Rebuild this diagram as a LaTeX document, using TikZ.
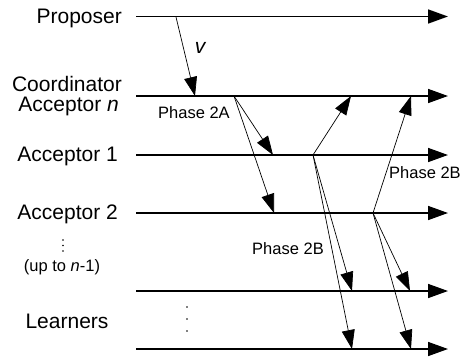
\documentclass[tikz,border=0pt]{standalone}
\usepackage{fontspec}
\setmainfont{Liberation Sans}
\usetikzlibrary{arrows.meta}
\begin{document}
\begin{tikzpicture}[x=1pt,y=-1pt,
  timeline/.style={line width=1.6pt,-{Triangle[length=20pt,width=14pt]}},
  msg/.style={line width=0.7pt,-{Triangle[length=19pt,width=13pt]}},
  role/.style={anchor=east,inner sep=0pt,font=\fontsize{21}{24}\selectfont},
  phase/.style={inner sep=0pt,font=\fontsize{16.5}{19}\selectfont},
  dotmark/.style={fill=black,draw=none}]
\useasboundingbox (0,0) rectangle (462,356);
\clip (0,0) rectangle (462,356);
% timelines
\coordinate (p0) at (136,16.5); \coordinate (p1) at (448,16.5);
\coordinate (c0) at (136,96);   \coordinate (c1) at (448,96);
\coordinate (a0) at (136,155);  \coordinate (a1) at (448,155);
\coordinate (b0) at (136,213);  \coordinate (b1) at (448,213);
\coordinate (l0) at (136,291);  \coordinate (l1) at (448,291);
\coordinate (m0) at (136,349);  \coordinate (m1) at (448,349);
\draw[timeline] (p0) -- (p1);
\draw[timeline] (c0) -- (c1);
\draw[timeline] (a0) -- (a1);
\draw[timeline] (b0) -- (b1);
\draw[timeline] (l0) -- (l1);
\draw[timeline] (m0) -- (m1);
% labels
\node[role] (tp) at (122,18) {Proposer};
\node[role,anchor=base east] (tc) at (122,91) {Coordinator};
\node[role,anchor=base east] (tn) at (119,111) {Acceptor \textit{n}};
\node[role] (ta) at (118,156) {Acceptor 1};
\node[role] (tb) at (118,214) {Acceptor 2};
\node[inner sep=0pt,font=\fontsize{21}{24}\selectfont] (tl) at (67,321) {Learners};
\node[phase] (tu) at (62,267) {(up to \textit{n}-1)};
\node[phase,anchor=west] (t2a) at (158,113) {Phase 2A};
\node[phase] (t2b) at (288,249) {Phase 2B};
\node[phase,anchor=west] (t2c) at (389,173) {Phase 2B};
\node[inner sep=0pt,font=\fontsize{21}{24}\selectfont\itshape] (tv) at (200,48) {v};
% dots
\foreach \yy in {240,245.5,251} \fill[dotmark] (63,\yy) circle (0.9);
\foreach \yy in {307,319,331} \fill[dotmark] (187,\yy) circle (0.9);
% message points
\coordinate (ps) at (176,17);
\coordinate (cv) at (195,96);
\coordinate (cs) at (234,96);
\coordinate (a2a) at (273,155);
\coordinate (b2a) at (274,213);
\coordinate (as) at (313,155);
\coordinate (ca) at (351,96);
\coordinate (la) at (352,291);
\coordinate (ma) at (352,349);
\coordinate (bs) at (373,213);
\coordinate (cb) at (411,96);
\coordinate (lb) at (410,291);
\coordinate (mb) at (411,349);
\draw[msg] (ps) -- (cv);
\draw[msg] (cs) -- (a2a);
\draw[msg] (cs) -- (b2a);
\draw[msg] (as) -- (ca);
\draw[msg] (as) -- (la);
\draw[msg] (as) -- (ma);
\draw[msg] (bs) -- (cb);
\draw[msg] (bs) -- (lb);
\draw[msg] (bs) -- (mb);
\end{tikzpicture}
\end{document}
